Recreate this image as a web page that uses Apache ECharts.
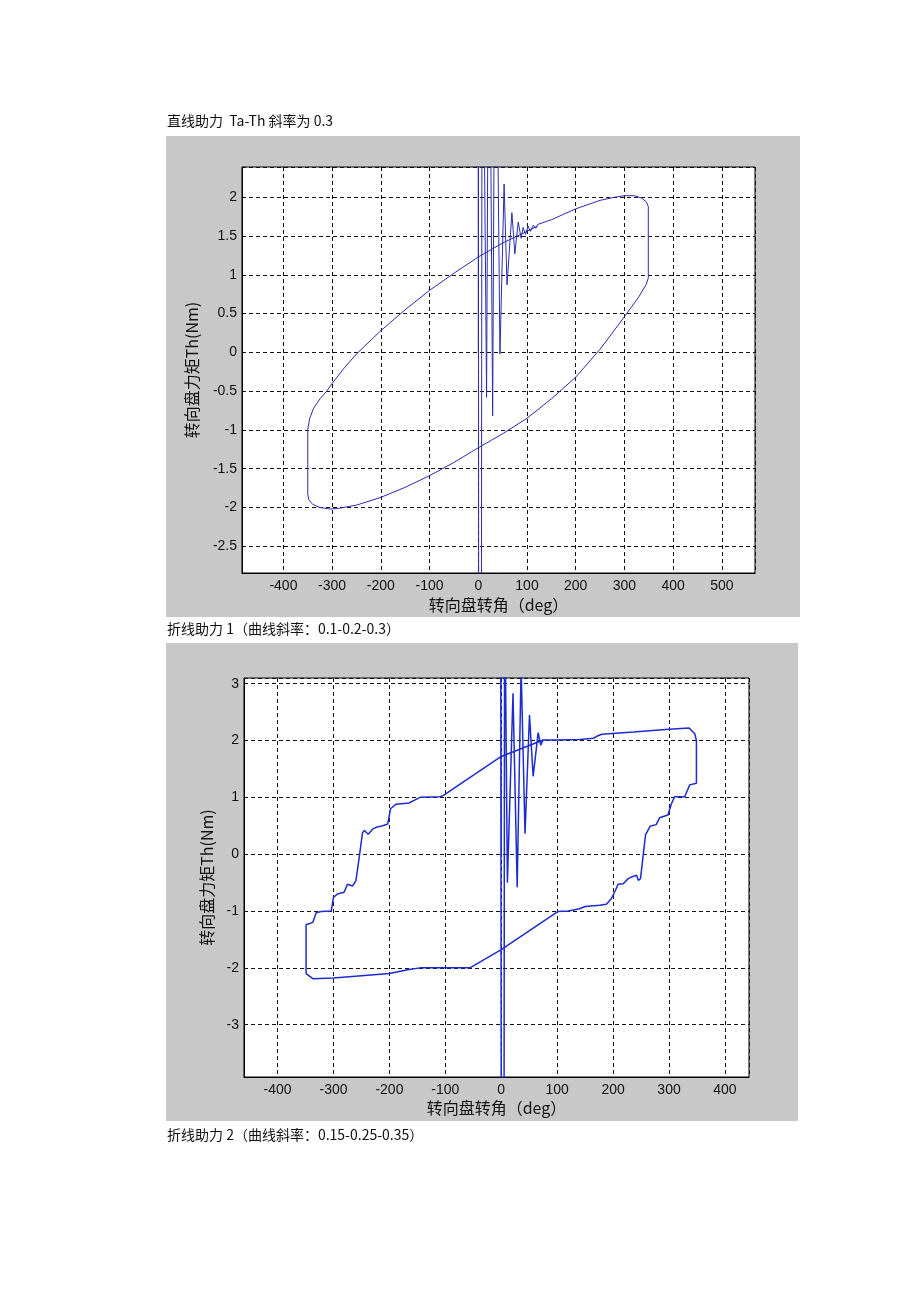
<!DOCTYPE html>
<html><head><meta charset="utf-8">
<script src="https://cdn.jsdelivr.net/npm/echarts@6/dist/echarts.min.js"></script>
<style>html,body{margin:0;padding:0;background:#fff;}#c{width:920px;height:1302px;}</style>
</head><body><div id="c"></div>
<script>
// ---- captions ----
const caption1 = '直线助力  Ta-Th 斜率为 0.3';
const caption2 = '折线助力 1（曲线斜率：0.1-0.2-0.3）';
const caption3 = '折线助力 2（曲线斜率：0.15-0.25-0.35）';
const xName = '转向盘转角（deg）';
const yName = '转向盘力矩Th(Nm)';

// ---- chart 1 : straight-line assist, [angle deg, torque Nm] in trace order ----
const transient1 = [[0,0],[0,6],[1,-6],[6,-6],[8,6],[17,-0.58],[22,6],[29.5,-0.82],[35,6],[44.5,-0.02],[53,2.17],[59,0.87],[69,1.8],[75,1.27],[82,1.68],[88,1.47],[92,1.61],[97,1.52],[102,1.63],[107,1.56],[113,1.64],[118,1.6],[122,1.65]];
const upperRight1 = [[150,1.71],[200,1.85],[250,1.96],[280,2.0],[300,2.02],[320,2.02],[335,1.99],[345,1.94],[349,1.88]];
const rightEdge1 = [[349,1.4],[349,0.96]];
const lowerBranch1 = [[345,0.88],[330,0.72],[300,0.46],[250,0.04],[200,-0.32],[150,-0.6],[100,-0.85],[50,-1.05],[0,-1.23],[-50,-1.42],[-100,-1.59],[-150,-1.74],[-200,-1.87],[-250,-1.97],[-285,-2.01],[-305,-2.02],[-325,-2.0],[-340,-1.96],[-348,-1.9],[-350,-1.83]];
const leftEdge1 = [[-350,-0.99]];
const upperLeft1 = [[-346,-0.85],[-338,-0.72],[-325,-0.6],[-311,-0.5],[-300,-0.4],[-275,-0.2],[-250,-0.02],[-200,0.28],[-150,0.55],[-100,0.8],[-50,1.02],[0,1.23],[50,1.41],[100,1.56],[122,1.63]];

// ---- chart 2 : broken-line assist 1 ----
const transient2 = [[0,0],[-1,5],[0,-5],[5,-5],[6,5],[11,-0.5],[21,2.83],[28.5,-0.58],[35.5,3.3],[42.5,0.36],[50.5,2.45],[57,1.37],[66,2.14],[70.5,1.92],[75,2.01]];
const upperFlat2 = [[100,2.01],[140,2.02],[165,2.04],[172,2.08],[180,2.11],[236,2.15],[300,2.2],[336,2.22],[346,2.12],[349,2.0],[349,1.5],[349,1.25]];
const lowerSteps2 = [[346,1.24],[337,1.22],[328,1.01],[310,1.01],[304,0.88],[298,0.69],[283,0.64],[277,0.52],[266,0.49],[258,0.34],[254,0.0],[249,-0.43],[245,-0.46],[242,-0.37],[233,-0.4],[227,-0.43],[218,-0.52],[209,-0.53],[203,-0.66],[197,-0.78],[188,-0.88],[176,-0.9],[150,-0.92],[140,-0.96],[120,-1.0],[101,-1.01]];
const lowerLinear2 = [[0,-1.68],[-56,-2.0]];
const lowerFlat2 = [[-100,-2.0],[-145,-2.0],[-165,-2.03],[-200,-2.1],[-250,-2.14],[-300,-2.18],[-337,-2.19],[-349,-2.1],[-349,-1.5],[-349,-1.24]];
const upperSteps2 = [[-346,-1.22],[-337,-1.2],[-331,-1.03],[-322,-1.01],[-304,-1.0],[-300,-0.76],[-293,-0.7],[-281,-0.67],[-275,-0.53],[-266,-0.56],[-260,-0.47],[-256,-0.2],[-252,0.09],[-248,0.38],[-245,0.42],[-238,0.35],[-230,0.44],[-222,0.48],[-212,0.5],[-203,0.53],[-198,0.8],[-188,0.88],[-165,0.9],[-155,0.95],[-145,1.0],[-110,1.01],[-104,1.03]];
const upperLinear2 = [[0,1.72],[75,2.01]];

const trace1 = [].concat(transient1, upperRight1, rightEdge1, lowerBranch1, leftEdge1, upperLeft1);
const trace2 = [].concat(transient2, upperFlat2, lowerSteps2, lowerLinear2, lowerFlat2, upperSteps2, upperLinear2);

const chart = echarts.init(document.getElementById('c'), null, {renderer: 'canvas'});
const tickFont = {fontFamily: 'Liberation Sans, Arial, sans-serif', fontSize: 14, color: '#111'};
const nameFont = {fontFamily: 'Noto Sans CJK SC, sans-serif', fontSize: 16, color: '#111'};
const split = {show: true, lineStyle: {color: '#111', type: [4, 3], width: 1}};
function xAx(idx, min, max, gap) {
  return {type: 'value', gridIndex: idx, min: min, max: max, splitNumber: 10, minInterval: 100, maxInterval: 100,
    name: xName, nameLocation: 'middle', nameGap: gap, nameTextStyle: nameFont,
    axisLine: {show: true, onZero: false, lineStyle: {color: '#000', width: 1}}, axisTick: {show: false},
    axisLabel: Object.assign({margin: 6, showMinLabel: false, showMaxLabel: false}, tickFont), splitLine: split};
}
function yAx(idx, min, max, step, gap) {
  return {type: 'value', gridIndex: idx, min: min, max: max, splitNumber: 12, minInterval: step, maxInterval: step,
    name: yName, nameLocation: 'middle', nameGap: gap, nameTextStyle: nameFont,
    axisLine: {show: true, onZero: false, lineStyle: {color: '#000', width: 1}}, axisTick: {show: false},
    axisLabel: Object.assign({margin: 5, showMinLabel: false, showMaxLabel: false}, tickFont), splitLine: split};
}
const capStyle = {fontFamily: 'Noto Sans CJK SC, sans-serif', fontSize: 14, fontWeight: 'normal', color: '#111', lineHeight: 18};
chart.setOption({
  animation: false,
  backgroundColor: '#fff',
  title: [
    {text: caption1, left: 163, top: 112, textStyle: capStyle, padding: [0, 4]},
    {text: caption2, left: 163, top: 620, textStyle: capStyle, padding: [0, 4]},
    {text: caption3, left: 163, top: 1126, textStyle: capStyle, padding: [0, 4]}
  ],
  graphic: [
    {type: 'rect', z: -10, shape: {x: 166, y: 136, width: 634, height: 481}, style: {fill: '#c8c8c8'}},
    {type: 'rect', z: -10, shape: {x: 166, y: 643, width: 632, height: 478}, style: {fill: '#c8c8c8'}}
  ],
  grid: [
    {left: 242, top: 167, right: 165, bottom: 729, show: true, backgroundColor: '#fff', borderColor: '#000', borderWidth: 1},
    {left: 244, top: 678, right: 171, bottom: 225, show: true, backgroundColor: '#fff', borderColor: '#000', borderWidth: 1}
  ],
  xAxis: [xAx(0, -485, 568, 24), xAx(1, -460, 443, 23)],
  yAxis: [yAx(0, -2.845, 2.39, 0.5, 42), yAx(1, -3.92, 3.1, 1, 29)],
  series: [
    {type: 'line', xAxisIndex: 0, yAxisIndex: 0, data: trace1, showSymbol: false, clip: true,
      lineStyle: {color: '#2b2bb0', width: 1}},
    {type: 'line', xAxisIndex: 1, yAxisIndex: 1, data: trace2, showSymbol: false, clip: true,
      lineStyle: {color: '#1c2ccf', width: 1.5}}
  ]
});
</script></body></html>
